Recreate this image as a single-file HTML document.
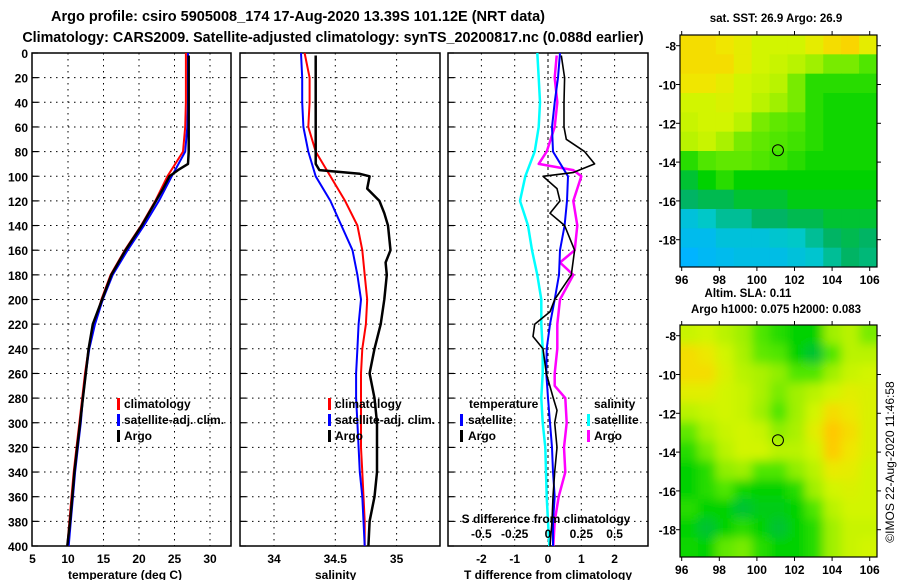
<!DOCTYPE html>
<html><head><meta charset="utf-8"><style>
html,body{margin:0;padding:0;background:#fff;}
svg{display:block;font-family:"Liberation Sans",sans-serif;font-weight:bold;}
</style></head><body>
<svg id="c" width="900" height="580" viewBox="0 0 900 580" xmlns="http://www.w3.org/2000/svg">
<defs>
<filter id="blur" x="0" y="0" width="1" height="1"><feGaussianBlur stdDeviation="5"/></filter>
<clipPath id="clipM2"><rect x="680" y="325" width="197" height="232"/></clipPath>
<clipPath id="clipM1"><rect x="680" y="35" width="197" height="232"/></clipPath>
</defs>
<text x="298" y="21" text-anchor="middle" font-size="14.5">Argo profile: csiro 5905008_174 17-Aug-2020 13.39S 101.12E (NRT data)</text>
<text x="333" y="42" text-anchor="middle" font-size="14.3">Climatology: CARS2009. Satellite-adjusted climatology: synTS_20200817.nc (0.088d earlier)</text>
</svg>
<script>
// ---- depth axis ----
const depthTicks=[0,20,40,60,80,100,120,140,160,180,200,220,240,260,280,300,320,340,360,380,400];
const depth20=[0,20,40,60,80,100,120,140,160,180,200,220,240,260,280,300,320,340,360,380,400];
// ---- temperature panel ----
const tempTicks=[5,10,15,20,25,30];
const tempClim=[26.6,26.6,26.6,26.5,26.2,24.0,22.3,20.3,18.0,16.0,14.7,13.7,12.9,12.4,12.0,11.6,11.2,10.8,10.5,10.2,9.9];
const tempSat=[26.9,26.9,26.9,26.8,26.5,24.6,22.8,20.7,18.4,16.3,14.9,13.8,13.0,12.5,12.1,11.8,11.4,11.0,10.7,10.4,10.1];
const argoTDepth=[2,20,40,60,80,90,95,100,110,120,140,160,180,200,220,240,260,280,300,320,340,360,380,400];
const tempArgo=[27.0,27.0,27.0,27.0,27.0,26.9,25.5,24.3,23.4,22.4,20.4,18.1,16.1,14.8,13.5,12.9,12.5,12.1,11.7,11.3,10.9,10.6,10.3,9.9];
// ---- salinity panel ----
const salTicks=[34,34.5,35];
const salClim=[34.25,34.29,34.29,34.28,34.34,34.46,34.58,34.68,34.72,34.74,34.76,34.75,34.72,34.71,34.71,34.71,34.71,34.72,34.73,34.74,34.74];
const salSat=[34.22,34.23,34.23,34.24,34.28,34.34,34.46,34.55,34.64,34.68,34.71,34.69,34.68,34.67,34.67,34.68,34.69,34.70,34.72,34.73,34.74];
const argoSDepth=[2,20,40,60,80,90,95,98,100,110,120,130,140,160,170,180,200,220,240,260,280,300,320,340,360,380,400];
const salArgo=[34.34,34.34,34.34,34.34,34.34,34.34,34.37,34.7,34.78,34.76,34.86,34.9,34.93,34.95,34.91,34.92,34.9,34.87,34.82,34.78,34.82,34.84,34.84,34.84,34.82,34.78,34.77];
// ---- difference panel ----
const tdiffTicks=[-2,-1,0,1,2];
const sdiffTicks=[-0.5,-0.25,0,0.25,0.5];
const tdiffSat=[0.36,0.3,0.2,0.12,0.15,0.6,0.57,0.5,0.36,0.33,0.2,0.06,-0.04,-0.05,0.0,0.06,0.12,0.15,0.2,0.15,0.15];
const argoDDepth=[2,20,40,60,70,80,90,97,100,110,120,130,140,160,180,190,200,210,220,230,240,260,280,290,300,320,340,360,380,400];
const tdiffArgo=[0.4,0.5,0.48,0.48,0.55,1.1,1.4,0.75,-0.15,0.27,0.36,0.06,0.5,0.8,0.7,0.45,0.2,0.06,-0.4,-0.45,-0.15,-0.05,0.16,0.27,0.2,0.27,0.2,0.15,0.12,0.06];
const sdiffSat=[-0.08,-0.07,-0.06,-0.07,-0.1,-0.17,-0.21,-0.15,-0.12,-0.08,-0.05,-0.05,-0.04,-0.04,-0.05,-0.04,-0.02,-0.015,-0.01,0.0,0.01];
const argoSDDepth=[2,20,40,60,80,90,95,100,110,120,140,160,170,180,200,220,240,260,270,280,300,320,340,360,380,400];
const sdiffArgo=[0.065,0.05,0.07,0.05,-0.01,-0.07,0.19,0.25,0.22,0.19,0.22,0.2,0.09,0.19,0.09,0.07,0.07,0.05,0.05,0.13,0.14,0.12,0.13,0.08,0.05,0.04];
// ---- maps ----
const mapLatTicks=[-8,-10,-12,-14,-16,-18];
const mapLonTicks=[96,98,100,102,104,106];
const sstField=[
[0.9,0.9,0.88,0.85,0.8,0.8,0.8,0.85,0.9,0.92,0.85],
[0.9,0.9,0.9,0.85,0.8,0.78,0.75,0.7,0.65,0.65,0.6],
[0.88,0.88,0.85,0.8,0.78,0.75,0.65,0.55,0.55,0.55,0.55],
[0.8,0.8,0.82,0.8,0.75,0.7,0.65,0.55,0.52,0.52,0.52],
[0.78,0.8,0.8,0.75,0.65,0.62,0.6,0.55,0.52,0.52,0.52],
[0.75,0.78,0.72,0.65,0.62,0.6,0.58,0.55,0.52,0.52,0.52],
[0.55,0.6,0.62,0.62,0.6,0.58,0.55,0.52,0.52,0.52,0.52],
[0.45,0.5,0.55,0.5,0.5,0.5,0.5,0.5,0.5,0.5,0.5],
[0.4,0.42,0.42,0.45,0.45,0.45,0.48,0.48,0.48,0.48,0.48],
[0.25,0.3,0.35,0.35,0.4,0.4,0.42,0.42,0.45,0.45,0.45],
[0.2,0.2,0.25,0.25,0.25,0.28,0.3,0.35,0.4,0.42,0.4],
[0.15,0.18,0.2,0.22,0.22,0.22,0.25,0.28,0.35,0.4,0.38]];
const slaField=[
[0.78,0.8,0.75,0.7,0.6,0.55,0.5,0.5,0.7,0.75,0.65],
[0.9,0.87,0.8,0.72,0.62,0.6,0.5,0.45,0.6,0.75,0.75],
[0.9,0.9,0.82,0.75,0.72,0.68,0.6,0.6,0.7,0.78,0.8],
[0.84,0.84,0.8,0.78,0.72,0.65,0.7,0.75,0.8,0.84,0.82],
[0.75,0.78,0.8,0.78,0.7,0.6,0.7,0.8,0.9,0.87,0.82],
[0.62,0.72,0.78,0.8,0.78,0.68,0.72,0.84,0.95,0.9,0.82],
[0.55,0.65,0.75,0.8,0.8,0.75,0.75,0.8,0.94,0.88,0.82],
[0.5,0.55,0.68,0.7,0.6,0.6,0.68,0.75,0.86,0.85,0.8],
[0.5,0.55,0.6,0.52,0.5,0.5,0.55,0.7,0.8,0.82,0.8],
[0.55,0.5,0.5,0.45,0.48,0.48,0.5,0.6,0.75,0.8,0.8],
[0.5,0.45,0.5,0.55,0.5,0.45,0.5,0.55,0.7,0.78,0.78],
[0.52,0.5,0.62,0.65,0.55,0.5,0.5,0.55,0.7,0.78,0.8]];
const argoLon=101.12, argoLat=-13.39;

const svg=document.getElementById('c');
const NS='http://www.w3.org/2000/svg';
function mk(tag,attrs,parent){const e=document.createElementNS(NS,tag);for(const k in attrs)e.setAttribute(k,attrs[k]);(parent||svg).appendChild(e);return e;}
const Y0=53,Y1=546;
const yD=d=>Y0+d/400*(Y1-Y0);

function panel(x0,x1,xs,ticks,fmt,name){
  const g=mk('g',{});
  
  
  depthTicks.forEach(d=>{ if(d>0&&d<400){const l=mk('line',{x1:x0,x2:x1,y1:yD(d),y2:yD(d),stroke:'#000','stroke-width':1,'stroke-dasharray':'1.5,4.5'},g);}});
  ticks.forEach(t=>{const x=xs(t); if(x>x0+1&&x<x1-1){const l=mk('line',{x1:x,x2:x,y1:Y0,y2:Y1,stroke:'#000','stroke-width':1,'stroke-dasharray':'1.5,4.5'},g);}
    if(fmt){const tx=mk('text',{x:x,y:563,'text-anchor':'middle','font-size':12},g);tx.textContent=fmt(t);}});
  depthTicks.forEach(d=>{mk('line',{x1:x0,x2:x0+6,y1:yD(d),y2:yD(d),stroke:'#000','stroke-width':1.2},g);});
  const r=mk('rect',{x:x0,y:Y0,width:x1-x0,height:Y1-Y0,fill:'none',stroke:'#000','stroke-width':1.5},g);
  
  return g;
}
function line(xs,xv,dv,color,w,name){
  const pts=xv.map((v,i)=>xs(v).toFixed(1)+','+yD(dv[i]).toFixed(1)).join(' ');
  const p=mk('polyline',{points:pts,fill:'none',stroke:color,'stroke-width':w,'stroke-linejoin':'round'});
  
  
}
function txt(x,y,s,size,name,anchor,color){const t=mk('text',{x:x,y:y,'font-size':size,'text-anchor':anchor||'start',fill:color||'#000'});t.textContent=s;return t;}
function legendBar(x,y,color){const r=mk('rect',{x:x,y:y-10,width:3,height:12,fill:color});}

depthTicks.forEach(d=>{txt(28,yD(d)+5,String(d),12,'y-tick-label','end');});

// Panel 1 temperature
const xT=t=>32.5+(t-5)*7.1;
panel(32,231,xT,tempTicks,String,'temperature-panel');
line(xT,tempClim,depth20,'#ff0000',2,'temperature-climatology-line');
line(xT,tempSat,depth20,'#0000ff',2,'temperature-satellite-line');
line(xT,tempArgo,argoTDepth,'#000',2.5,'temperature-argo-line');
txt(68,579,'temperature (deg C)',12,'temperature-x-axis-title');
legendBar(117,408,'#ff0000');txt(124,408,'climatology',12,'legend-entry-climatology');
legendBar(117,424,'#0000ff');txt(124,424,'satellite-adj. clim.',12,'legend-entry-satellite');
legendBar(117,440,'#000');txt(124,440,'Argo',12,'legend-entry-argo');

// Panel 2 salinity
const xS=s=>274+(s-34)*122.6;
panel(240,440,xS,salTicks,String,'salinity-panel');
line(xS,salClim,depth20,'#ff0000',2,'salinity-climatology-line');
line(xS,salSat,depth20,'#0000ff',2,'salinity-satellite-line');
line(xS,salArgo,argoSDepth,'#000',2.5,'salinity-argo-line');
txt(315,579,'salinity',12,'salinity-x-axis-title');
legendBar(328,408,'#ff0000');txt(335,408,'climatology',12,'legend-entry-climatology');
legendBar(328,424,'#0000ff');txt(335,424,'satellite-adj. clim.',12,'legend-entry-satellite');
legendBar(328,440,'#000');txt(335,440,'Argo',12,'legend-entry-argo');

// Panel 3 differences
const xTd=t=>548+t*33.3;
const xSd=s=>548+s*133.3;
panel(448,648,xTd,tdiffTicks,String,'difference-panel');
const zl=mk('line',{x1:548,x2:548,y1:Y0,y2:Y1,stroke:'#000','stroke-width':1,'stroke-dasharray':'3,3'});

line(xSd,sdiffSat,depth20,'#00ffff',2.5,'salinity-diff-satellite-line');
line(xSd,sdiffArgo,argoSDDepth,'#ff00ff',2.5,'salinity-diff-argo-line');
line(xTd,tdiffSat,depth20,'#0000ff',2,'temperature-diff-satellite-line');
line(xTd,tdiffArgo,argoDDepth,'#000',1.6,'temperature-diff-argo-line');
txt(548,579,'T difference from climatology',12,'t-diff-x-axis-title','middle');
txt(546,523,'S difference from climatology',12,'s-diff-axis-title','middle');
sdiffTicks.forEach(s=>txt(xSd(s),538,String(s),12,'s-diff-tick-label','middle'));
txt(469,408,'temperature',12,'legend-title-temperature');
legendBar(460,424,'#0000ff');txt(468,424,'satellite',12,'legend-entry-t-satellite');
legendBar(460,440,'#000');txt(468,440,'Argo',12,'legend-entry-t-argo');
txt(594,408,'salinity',12,'legend-title-salinity');
legendBar(587,424,'#00ffff');txt(594,424,'satellite',12,'legend-entry-s-satellite');
legendBar(587,440,'#ff00ff');txt(594,440,'Argo',12,'legend-entry-s-argo');

// colormap
const cstops=[[0,[30,100,255]],[0.15,[0,180,255]],[0.3,[0,200,200]],[0.4,[0,180,100]],[0.5,[0,210,0]],[0.6,[80,230,0]],[0.7,[160,240,0]],[0.8,[210,245,0]],[0.88,[240,230,0]],[0.95,[255,200,0]],[1,[255,170,0]]];
function cmap(v){for(let i=1;i<cstops.length;i++){if(v<=cstops[i][0]){const a=cstops[i-1],b=cstops[i];const f=(v-a[0])/(b[0]-a[0]);const c=a[1].map((x,k)=>Math.round(x+(b[1][k]-x)*f));return 'rgb('+c.join(',')+')';}}return 'rgb(255,170,0)';}

function drawMap(top,field,blur,name){
  const L=680,R=877,T=top,B=top+232;
  const g=mk('g',{'clip-path':top<100?'url(#clipM1)':'url(#clipM2)'});
  
  const inner=mk('g',blur?{filter:'url(#blur)'}:{},g);
  const rows=field.length,cols=field[0].length;
  const pad=blur?20:0;
  field.forEach((row,i)=>row.forEach((v,j)=>{
    let x=L+j*(R-L)/cols,y=T+i*(B-T)/rows,w=(R-L)/cols+0.6,h=(B-T)/rows+0.6;
    if(blur){if(j==0){x-=pad;w+=pad;}if(j==cols-1)w+=pad;if(i==0){y-=pad;h+=pad;}if(i==rows-1)h+=pad;}
    const r=mk('rect',{x:x,y:y,width:w,height:h,fill:cmap(v)},inner);
    
  }));
  const lonX=lo=>681.7+(lo-96)*18.8;
  const latY=la=>T+10.7+(-8-la)*19.4;
  const circ=mk('circle',{cx:lonX(argoLon),cy:latY(argoLat),r:5.5,fill:'none',stroke:'#000','stroke-width':1});
  
  mk('rect',{x:L,y:T,width:R-L,height:B-T,fill:'none',stroke:'#000','stroke-width':1.2});
  mapLatTicks.forEach(la=>{const y=latY(la);mk('line',{x1:L-4,x2:L,y1:y,y2:y,stroke:'#000'});mk('line',{x1:R,x2:R+4,y1:y,y2:y,stroke:'#000'});txt(676,y+5,String(la),12,'map-lat-label','end');});
  mapLonTicks.forEach(lo=>{const x=lonX(lo);mk('line',{x1:x,x2:x,y1:T-4,y2:T,stroke:'#000'});mk('line',{x1:x,x2:x,y1:B,y2:B+4,stroke:'#000'});txt(x,B+17,String(lo),12,'map-lon-label','middle');});
}
drawMap(35,sstField,false,'sst-map');
drawMap(325,slaField,true,'sla-map');
txt(776,22,'sat. SST: 26.9 Argo: 26.9',11.5,'sst-map-title','middle');
txt(748,297,'Altim. SLA: 0.11',11.5,'sla-map-title','middle');
txt(776,313,'Argo h1000: 0.075 h2000: 0.083',11.5,'sla-map-subtitle','middle');
const cp=txt(0,0,'©IMOS 22-Aug-2020 11:46:58',12,'copyright-timestamp','middle');
cp.setAttribute('font-weight','normal');
cp.setAttribute('transform','translate(894,462) rotate(-90)');
</script>
</body></html>
